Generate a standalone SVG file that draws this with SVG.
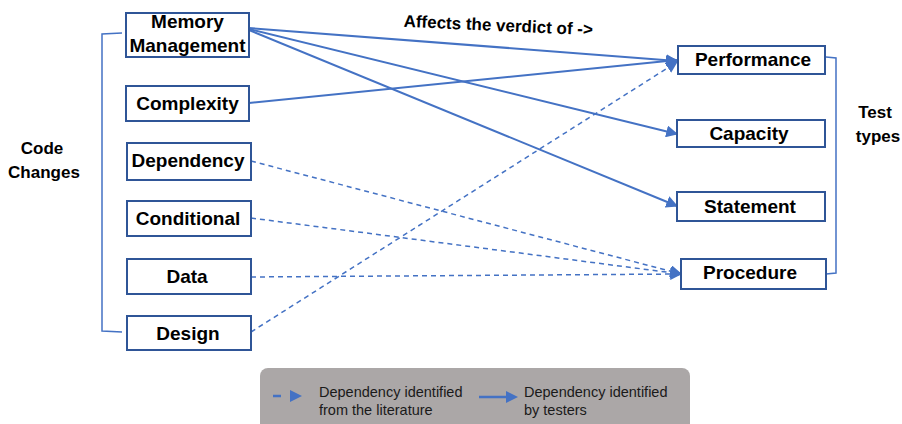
<svg xmlns="http://www.w3.org/2000/svg" width="902" height="424" viewBox="0 0 902 424">
<style>
.box{fill:#fff;stroke:#2F5597;stroke-width:2}
.lbl{font-family:"Liberation Sans",Arial,sans-serif;font-weight:bold;font-size:19px;fill:#000;text-anchor:middle}
.side{font-family:"Liberation Sans",Arial,sans-serif;font-weight:bold;font-size:17px;fill:#000;text-anchor:middle}
.leg{font-family:"Liberation Sans",Arial,sans-serif;font-size:14.5px;fill:#1a1a1a}
.solid{stroke:#4472C4;stroke-width:2;fill:none;marker-end:url(#ah)}
.dash{stroke:#4472C4;stroke-width:1.5;fill:none;stroke-dasharray:5 4;marker-end:url(#ah)}
.brk{stroke:#4472C4;stroke-width:1.5;fill:none}
</style>
<defs>
<marker id="ah" viewBox="0 0 10 10" refX="9" refY="5" markerWidth="12" markerHeight="12" markerUnits="userSpaceOnUse" orient="auto">
<path d="M0,0 L10,5 L0,10 Z" fill="#4472C4"/>
</marker>
</defs>
<rect width="902" height="424" fill="#fff"/>
<g id="brackets">
<path class="brk" d="M122,33 L102,34 L102,331 L122,332"/>
<path class="brk" d="M826,57 L836,58 L836,273 L826,274"/>
</g>
<g id="connectors">
<line class="solid" x1="249" y1="28" x2="677" y2="61"/>
<line class="solid" x1="249" y1="29" x2="677" y2="134"/>
<line class="solid" x1="249" y1="30" x2="677" y2="206"/>
<line class="solid" x1="249" y1="103" x2="677" y2="60"/>
<line class="dash" x1="251" y1="161" x2="681" y2="274"/>
<line class="dash" x1="251" y1="218" x2="681" y2="274"/>
<line class="dash" x1="251" y1="277" x2="681" y2="274"/>
<line class="dash" x1="251" y1="332" x2="677" y2="62"/>
</g>
<g id="memory"><rect class="box" x="126" y="13" width="123" height="44"/><text class="lbl" x="187.5" y="28">Memory</text><text class="lbl" x="187.5" y="52">Management</text></g>
<g id="complexity"><rect class="box" x="126" y="86" width="123" height="35"/><text class="lbl" x="187.5" y="110">Complexity</text></g>
<g id="dependency"><rect class="box" x="127" y="143" width="124" height="37"/><text class="lbl" x="188" y="167">Dependency</text></g>
<g id="conditional"><rect class="box" x="127" y="201" width="124" height="35"/><text class="lbl" x="188" y="225">Conditional</text></g>
<g id="data"><rect class="box" x="127" y="259" width="124" height="35"/><text class="lbl" x="187" y="283">Data</text></g>
<g id="design"><rect class="box" x="127" y="316" width="124" height="34"/><text class="lbl" x="188" y="340">Design</text></g>
<g id="performance"><rect class="box" x="678" y="46" width="147" height="28"/><text class="lbl" x="753" y="66">Performance</text></g>
<g id="capacity"><rect class="box" x="677" y="120" width="148" height="27"/><text class="lbl" x="749" y="140">Capacity</text></g>
<g id="statement"><rect class="box" x="677" y="192" width="148" height="29"/><text class="lbl" x="750" y="213">Statement</text></g>
<g id="procedure"><rect class="box" x="681" y="259" width="145" height="30"/><text class="lbl" x="750" y="279">Procedure</text></g>
<g id="code-changes"><text class="side" x="42" y="154">Code</text><text class="side" x="44" y="178">Changes</text></g>
<g id="test-types"><text class="side" x="875" y="118">Test</text><text class="side" x="878" y="142">types</text></g>
<g id="title"><text class="side" x="498" y="31" transform="rotate(2.6 498 31)">Affects the verdict of -&gt;</text></g>
<g id="legend">
<rect x="260" y="368" width="430" height="70" rx="8" fill="#ABA7A7"/>
<line x1="273" y1="396" x2="281" y2="396" stroke="#4472C4" stroke-width="2.5"/>
<path d="M290,390 L302,396 L290,402 Z" fill="#4472C4"/>
<text class="leg" x="319" y="397">Dependency identified</text>
<text class="leg" x="319" y="415">from the literature</text>
<line x1="479" y1="397" x2="508" y2="397" stroke="#4472C4" stroke-width="2.5"/>
<path d="M506,391 L518,397 L506,403 Z" fill="#4472C4"/>
<text class="leg" x="524" y="397">Dependency identified</text>
<text class="leg" x="524" y="415">by testers</text>
</g>
</svg>
